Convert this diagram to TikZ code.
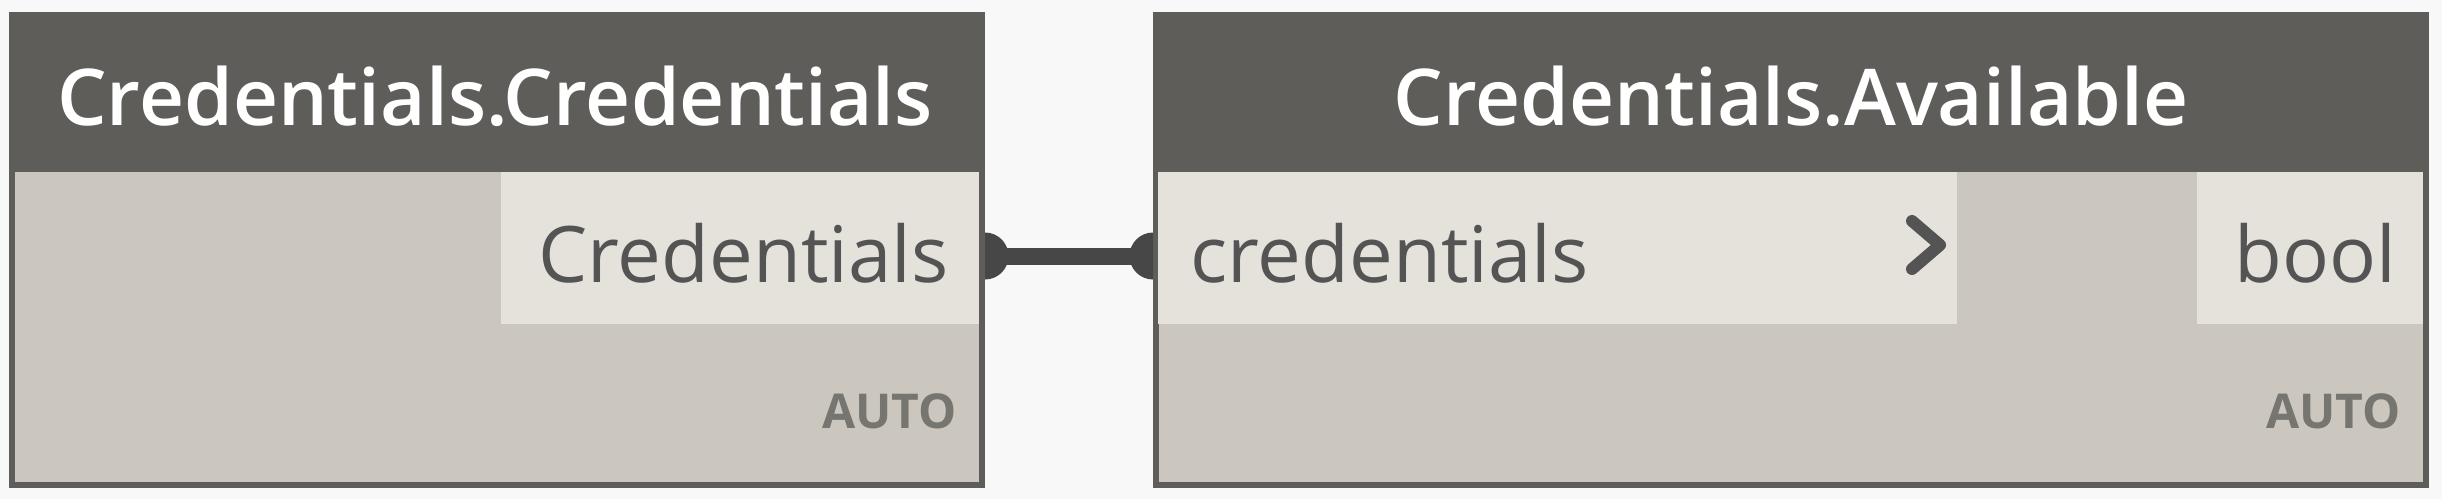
\documentclass[tikz,border=0pt]{standalone}
\usepackage{fontspec}
\setmainfont{Open Sans}
\newfontfamily\titlefont{Open Sans Semibold}
\definecolor{bggray}{HTML}{F8F8F8}
\definecolor{hdrgray}{HTML}{5F5D5A}
\definecolor{bodygray}{HTML}{CBC6BE}
\definecolor{portgray}{HTML}{E5E2DC}
\definecolor{txtgray}{HTML}{545454}
\definecolor{lacegray}{HTML}{77756F}
\definecolor{wiregray}{HTML}{474747}
\begin{document}
\begin{tikzpicture}[x=0.5pt,y=-0.5pt,
    nodebox/.style={draw=hdrgray,fill=bodygray,line width=3pt,inner sep=0pt,minimum height=235pt},
    nodehead/.style={fill=hdrgray,inner sep=0pt,minimum height=80pt},
    portbox/.style={fill=portgray,inner sep=0pt,minimum height=76pt},
    headtext/.style={text=white,font=\titlefont\fontsize{39.2}{39.2}\selectfont,inner sep=0pt,anchor=base},
    porttext/.style={text=txtgray,font=\fontsize{39}{39}\selectfont,inner sep=0pt},
    lacetext/.style={text=lacegray,font=\bfseries\fontsize{24}{24}\selectfont,inner sep=0pt,anchor=base east},
    wire/.style={draw=wiregray,line width=8.5pt},
    chevron/.style={draw=txtgray,line width=6pt,line cap=round,line join=round}]
    \fill[bggray] (0,0) rectangle (2442,499);
    \useasboundingbox (0,0) rectangle (2442,499);
    \node[nodebox,minimum width=485pt] (credsbox) at (497,250) {};
    \node[nodebox,minimum width=635pt] (availbox) at (1791,250) {};
    \node[nodehead,minimum width=488pt] (credshead) at (497,92) {};
    \node[nodehead,minimum width=638pt] (availhead) at (1791,92) {};
    \node[headtext] (credstitle) at (495,125) {Credentials.Credentials};
    \node[headtext] (availtitle) at (1791,125) {Credentials.Available};
    \node[portbox,minimum width=239pt] (credout) at (740,248) {};
    \node[portbox,minimum width=399.5pt] (availin) at (1557.5,248) {};
    \node[portbox,minimum width=113pt] (availout) at (2310,248) {};
    \node[porttext,anchor=base east] (credoutname) at (949,282) {Credentials};
    \node[porttext,anchor=base west] (availinname) at (1190,282) {credentials};
    \node[porttext,anchor=base east] (availoutname) at (2397,282) {bool};
    \draw[chevron] (1912,221) -- (1940,245) -- (1912,269);
    \node[lacetext] (credslace) at (957,428) {AUTO};
    \node[lacetext] (availlace) at (2401,428) {AUTO};
    \draw[wire] ([yshift=-3pt]credsbox.east) -- ([yshift=-3pt]availbox.west);
    \fill[wiregray] ([yshift=-3pt]credsbox.east) ++(0,23.5) arc[start angle=-90,end angle=90,radius=11.75pt] -- cycle;
    \fill[wiregray] ([yshift=-3pt]availbox.west) ++(0,-23.5) arc[start angle=90,end angle=270,radius=11.75pt] -- cycle;
\end{tikzpicture}
\end{document}
